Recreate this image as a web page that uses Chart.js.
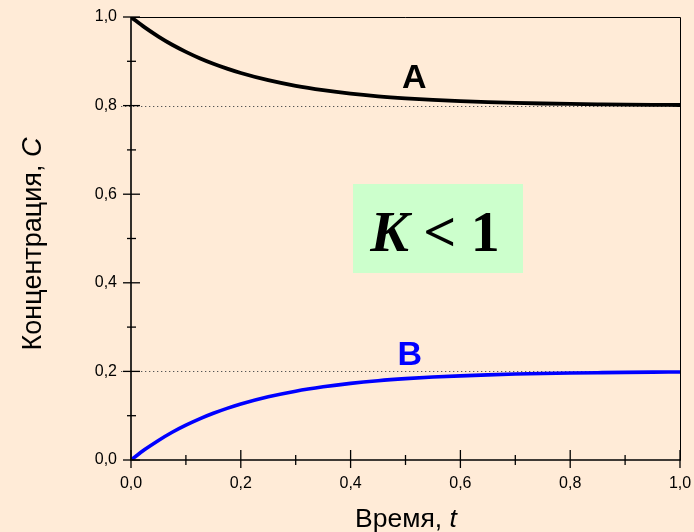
<!DOCTYPE html>
<html><head><meta charset="utf-8">
<script src="https://cdn.jsdelivr.net/npm/chart.js@4.4.1/dist/chart.umd.min.js"></script>
<style>html,body{margin:0;padding:0;background:#FFEBD7;}#wrap{width:694px;height:532px;}</style>
</head><body><div id="wrap"><canvas id="c" width="694" height="532"></canvas></div>
<script>
const times = [0,0.025,0.05,0.075,0.1,0.125,0.15,0.175,0.2,0.25,0.3,0.35,0.4,0.45,0.5,0.55,0.6,0.65,0.7,0.75,0.8,0.85,0.9,0.95,1.0];
const seriesA = [1.0,0.9765,0.9558,0.9373,0.9213,0.9070,0.8945,0.8834,0.8736,0.8573,0.8446,0.8348,0.8270,0.8210,0.8164,0.8128,0.8100,0.8078,0.8060,0.8047,0.8037,0.8029,0.8022,0.8017,0.8013];
const seriesB = [0.0,0.0235,0.0442,0.0627,0.0787,0.0930,0.1055,0.1166,0.1264,0.1427,0.1554,0.1652,0.1730,0.1790,0.1836,0.1872,0.1900,0.1922,0.1940,0.1953,0.1963,0.1971,0.1978,0.1983,0.1987];
const equilibriumLevels = [0.8, 0.2];
const majorTicks = [0,0.2,0.4,0.6,0.8,1.0];
const minorTicks = [0.1,0.3,0.5,0.7,0.9];
const labelA = {text:'A', t:0.516, c:0.84};
const labelB = {text:'B', t:0.508, c:0.214};

const decorPlugin = {
  id:'decor',
  beforeDatasetsDraw(chart){
    const ctx=chart.ctx, x=chart.scales.x, y=chart.scales.y, a=chart.chartArea;
    ctx.save();
    ctx.strokeStyle='#555'; ctx.lineWidth=1; ctx.setLineDash([1.3,2.7]);
    equilibriumLevels.forEach(v=>{
      const py=Math.round(y.getPixelForValue(v))+0.5;
      ctx.beginPath(); ctx.moveTo(a.left-10,py); ctx.lineTo(a.right,py); ctx.stroke();
    });
    ctx.restore();
  },
  afterDatasetsDraw(chart){
    const ctx=chart.ctx, x=chart.scales.x, y=chart.scales.y, a=chart.chartArea;
    ctx.save();
    ctx.strokeStyle='#000';
    ctx.lineWidth=1;
    ctx.beginPath(); ctx.moveTo(a.left,a.top+0.5); ctx.lineTo(a.right+0.5,a.top+0.5); ctx.lineTo(a.right+0.5,a.bottom); ctx.stroke();
    ctx.lineWidth=1.6;
    ctx.beginPath(); ctx.moveTo(a.left,a.top); ctx.lineTo(a.left,a.bottom); ctx.lineTo(a.right+1,a.bottom); ctx.stroke();
    ctx.lineWidth=1.3;
    majorTicks.forEach(v=>{
      const py=y.getPixelForValue(v);
      ctx.beginPath(); ctx.moveTo(a.left-8,py); ctx.lineTo(a.left+9,py); ctx.stroke();
      const px=x.getPixelForValue(v);
      ctx.beginPath(); ctx.moveTo(px,a.bottom-10); ctx.lineTo(px,a.bottom+8); ctx.stroke();
    });
    minorTicks.forEach(v=>{
      const py=y.getPixelForValue(v);
      ctx.beginPath(); ctx.moveTo(a.left-4,py); ctx.lineTo(a.left+5,py); ctx.stroke();
      const px=x.getPixelForValue(v);
      ctx.beginPath(); ctx.moveTo(px,a.bottom-5); ctx.lineTo(px,a.bottom+5); ctx.stroke();
    });
    ctx.font='bold 34px "Liberation Sans", Arial, sans-serif';
    ctx.textAlign='center'; ctx.textBaseline='alphabetic';
    ctx.fillStyle='#000';
    ctx.fillText(labelA.text, x.getPixelForValue(labelA.t), y.getPixelForValue(labelA.c));
    ctx.fillStyle='#0000FF';
    ctx.fillText(labelB.text, x.getPixelForValue(labelB.t), y.getPixelForValue(labelB.c));
    ctx.fillStyle='#CCFFCC';
    ctx.fillRect(353,184,170,89);
    ctx.fillStyle='#000';
    const f1='italic bold 58px "Liberation Serif", "Times New Roman", serif';
    const f2='bold 58px "Liberation Serif", "Times New Roman", serif';
    ctx.font=f1; const wK=ctx.measureText('K').width;
    ctx.font=f2; const wR=ctx.measureText(' < 1').width;
    let sx=435-(wK+wR)/2;
    ctx.textAlign='left';
    ctx.font=f1; ctx.fillText('K',sx,251);
    ctx.font=f2; ctx.fillText(' < 1',sx+wK,251);
    const xf='26.5px "Liberation Sans", Arial, sans-serif', xfi='italic 26.5px "Liberation Sans", Arial, sans-serif';
    ctx.font=xf; const w1=ctx.measureText('Время, ').width;
    ctx.font=xfi; const w2=ctx.measureText('t').width;
    let xs=406-(w1+w2)/2;
    ctx.font=xf; ctx.fillText('Время, ',xs,527);
    ctx.font=xfi; ctx.fillText('t',xs+w1,527);
    ctx.save();
    ctx.translate(41,244); ctx.rotate(-Math.PI/2);
    const yf='27px "Liberation Sans", Arial, sans-serif', yfi='italic 27px "Liberation Sans", Arial, sans-serif';
    ctx.font=yf; const v1=ctx.measureText('Концентрация, ').width;
    ctx.font=yfi; const v2=ctx.measureText('C').width;
    let ys=-(v1+v2)/2;
    ctx.font=yf; ctx.fillText('Концентрация, ',ys,0);
    ctx.font=yfi; ctx.fillText('C',ys+v1,0);
    ctx.restore();
    ctx.restore();
  }
};

const fmt = v => Number(v).toFixed(1).replace('.',',');

new Chart(document.getElementById('c'), {
  type:'line',
  data:{
    datasets:[
      {label:'A', data:times.map((t,i)=>({x:t,y:seriesA[i]})), borderColor:'#000000', borderWidth:3.8, pointRadius:0, cubicInterpolationMode:'monotone', fill:false},
      {label:'B', data:times.map((t,i)=>({x:t,y:seriesB[i]})), borderColor:'#0000FF', borderWidth:3.6, pointRadius:0, cubicInterpolationMode:'monotone', fill:false}
    ]
  },
  options:{
    responsive:false, animation:false,
    layout:{padding:{left:0,right:14,top:17,bottom:0}},
    plugins:{legend:{display:false}, tooltip:{enabled:false}},
    scales:{
      x:{type:'linear', min:0, max:1,
         grid:{display:false, drawTicks:false}, border:{display:false},
         ticks:{stepSize:0.2, padding:14, color:'#000', font:{family:'"Liberation Sans", Arial, sans-serif', size:16}, callback:fmt, maxRotation:0},
         afterFit(s){ s.height=72; s.paddingLeft=0; s.paddingRight=0; }},
      y:{type:'linear', min:0, max:1,
         grid:{display:false, drawTicks:false}, border:{display:false},
         ticks:{stepSize:0.2, padding:14, color:'#000', font:{family:'"Liberation Sans", Arial, sans-serif', size:16}, callback:fmt},
         afterFit(s){ s.width=131; s.paddingTop=0; s.paddingBottom=0; }}
    }
  },
  plugins:[decorPlugin]
});
</script></body></html>
